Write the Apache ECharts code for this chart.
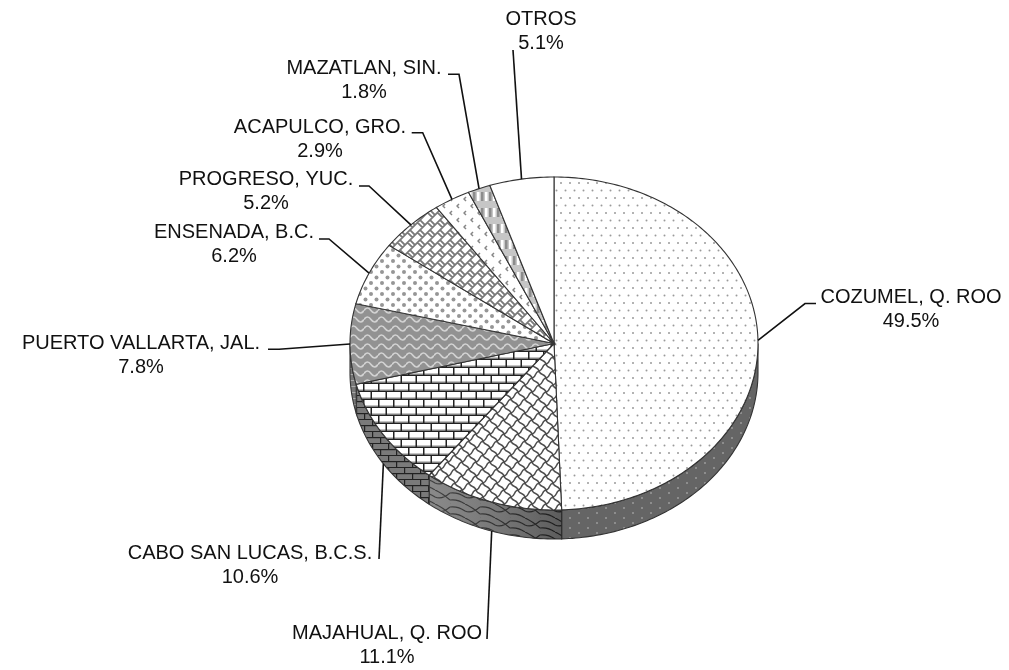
<!DOCTYPE html>
<html><head><meta charset="utf-8">
<style>html,body{margin:0;padding:0;background:#fff}#c{width:1009px;height:670px}</style>
<script src="https://cdn.jsdelivr.net/npm/echarts@6/dist/echarts.min.js"></script>
</head><body><div id="c"></div>
<script>
const categories = ['COZUMEL, Q. ROO','MAJAHUAL, Q. ROO','CABO SAN LUCAS, B.C.S.','PUERTO VALLARTA, JAL.','ENSENADA, B.C.','PROGRESO, YUC.','ACAPULCO, GRO.','MAZATLAN, SIN.','OTROS'];
const shares = [49.5,11.1,10.6,7.8,6.2,5.2,2.9,1.8,5.1];
// label layout: text centre x, text centre y, then leader bends
const labelCentres = [[911,309.5],[387,645],[250,565],[141,355],[234,244],[266,191.5],[320,139],[364,80.5],[541,31.5]];
const leaderBends = [
 [[805,303.5],[816,303.5]],
 [[487,639]],
 [[379,559]],
 [[279,349.3],[268,349.3]],
 [[329,239],[319,239]],
 [[369,186],[359,186]],
 [[422.7,132.7],[411.7,132.7]],
 [[459,74.3],[448,74.3]],
 [[513,50]]
];
const CX=554, CY=343.5, RX=204, RY=166.5, DEPTH=29;

function tile(w,h,bg,draw){
  const c=document.createElement('canvas');c.width=w;c.height=h;
  const g=c.getContext('2d');
  if(bg){g.fillStyle=bg;g.fillRect(0,0,w,h);}
  draw(g);
  return {image:c,repeat:'repeat'};
}
function dots(g,pts,r,col){g.fillStyle=col;pts.forEach(p=>{g.beginPath();g.arc(p[0],p[1],r,0,7);g.fill();});}
function strokes(g,col,lw,fn){g.strokeStyle=col;g.lineWidth=lw;g.lineJoin='round';g.beginPath();fn(g);g.stroke();}

const topPatterns=[
 tile(18,15,'#fff',g=>dots(g,[[3,3],[12,3],[7.5,10.5],[16.5,10.5]],1,'#9a9a9a')),
 tile(14,14,'#fff',g=>{g.scale(.7,.7);strokes(g,'#4e4e4e',2.1,c=>{
   for(const ox of [-20,0,20]) for(const oy of [-20,0,20]){
     c.moveTo(ox,oy+20);c.bezierCurveTo(ox+7,oy+18,ox+3,oy+12,ox+10,oy+10);c.bezierCurveTo(ox+17,oy+8,ox+13,oy+2,ox+20,oy);
     c.moveTo(ox,oy);c.bezierCurveTo(ox+2,oy+7,ox+8,oy+3,ox+10,oy+10);c.bezierCurveTo(ox+12,oy+17,ox+18,oy+13,ox+20,oy+20);
   }
 });}),
 tile(15,16,'#fff',g=>{
   g.fillStyle='#c4c4c4';g.fillRect(0,5,15,1.5);g.fillRect(0,13,15,1.5);
   g.fillStyle='#222';
   g.fillRect(0,6.5,15,1.5);g.fillRect(0,14.5,15,1.5);
   g.fillRect(3,0,1.5,7);g.fillRect(10.5,8,1.5,7);
 }),
 tile(14,9,'#929292',g=>strokes(g,'#d2d2d2',1.7,c=>{
   for(const y of [-4.5,4.5,13.5]){c.moveTo(0,y);c.quadraticCurveTo(3.5,y-5,7,y);c.quadraticCurveTo(10.5,y+5,14,y);}
 })),
 tile(11,11,'#fff',g=>dots(g,[[2.5,2.5],[8,8]],2,'#969696')),
 tile(10,10,'#fff',g=>strokes(g,'#7a7a7a',1.8,c=>{
   c.moveTo(-2,12);c.lineTo(12,-2);c.moveTo(-2,2);c.lineTo(2,-2);c.moveTo(8,12);c.lineTo(12,8);
   c.moveTo(0,0);c.lineTo(5,5);c.moveTo(7.5,2.5);c.lineTo(12.5,7.5);c.moveTo(-2.5,2.5);c.lineTo(2.5,7.5);
 })),
 tile(14,14,'#fff',g=>strokes(g,'#858585',1.5,c=>{
   c.moveTo(4,1);c.lineTo(2,3);c.lineTo(4,5);
   c.moveTo(11,8);c.lineTo(9,10);c.lineTo(11,12);
 })),
 tile(8,16,'#c6c6c6',g=>{
   g.fillStyle='#8c8c8c';g.fillRect(1,0,2.5,9);
   g.fillStyle='#fff';g.fillRect(5,0,2.5,9);
 }),
 null
];
const wallPatterns=[
 tile(18,10,'#656565',g=>dots(g,[[3,3],[12,8]],1,'#9b9b9b')),
 tile(30,14,'#767676',g=>strokes(g,'#222',1.2,c=>{
   c.moveTo(0,3);c.quadraticCurveTo(8,2,15,7);c.quadraticCurveTo(22,10,30,3);
   c.moveTo(-15,10);c.quadraticCurveTo(-7,9,0,14);c.moveTo(0,10);c.quadraticCurveTo(8,9,15,14);c.moveTo(15,0);c.quadraticCurveTo(22,3,30,10);
 })),
 tile(16,12,'#7a7a7a',g=>{g.fillStyle='#222';g.fillRect(0,5,16,1.2);g.fillRect(0,11,16,1.2);g.fillRect(4,0,1.2,5);g.fillRect(12,6,1.2,5);}),
 tile(8,6,'#767676',g=>{g.fillStyle='#aaa';g.fillRect(0,2,8,1);})
];
const wallShade={type:'linear',x:0,y:0,x2:1,y2:0,colorStops:[{offset:0,color:'rgba(255,255,255,0.14)'},{offset:1,color:'rgba(0,0,0,0.22)'}]};

const total=shares.reduce((a,b)=>a+b,0);
let run=0;
const spans=shares.map(v=>{const s=[run/total,(run+v)/total];run+=v;return s;});

function rim(api,frac){ // unit circle → axes scale the ellipse; clockwise from top
  const a=frac*2*Math.PI;
  return api.coord([Math.sin(a),Math.cos(a)]);
}
function arcPts(api,a,b,dy){
  const n=Math.max(2,Math.ceil((b-a)*360)),out=[];
  for(let i=0;i<=n;i++){const p=rim(api,a+(b-a)*i/n);out.push([p[0],p[1]+dy]);}
  return out;
}
const lineStyle={stroke:'#333',lineWidth:1.1};

const option={
 animation:false,
 grid:{left:CX-RX,top:CY-RY,width:2*RX,height:2*RY,show:false},
 xAxis:{type:'value',min:-1,max:1,show:false},
 yAxis:{type:'value',min:-1,max:1,show:false},
 series:[
  {type:'custom',coordinateSystem:'cartesian2d',silent:true,z:1,clip:false,
   data:spans.map((s,i)=>[s[0],s[1],i]),
   renderItem:(p,api)=>{
     const i=api.value(2),a=Math.max(api.value(0),.25),b=Math.min(api.value(1),.75);
     if(b<=a) return null;
     const pts=arcPts(api,a,b,0).concat(arcPts(api,a,b,DEPTH).reverse());
     const children=[{type:'polygon',shape:{points:pts},style:Object.assign({fill:wallPatterns[i]||'#777'},lineStyle)}];
     if(i===1) children.push({type:'polygon',shape:{points:pts},style:{fill:wallShade}});
     return {type:'group',children};
   }},
  {type:'custom',coordinateSystem:'cartesian2d',silent:true,z:2,clip:false,
   data:spans.map((s,i)=>[s[0],s[1],i]),
   renderItem:(p,api)=>{
     const i=api.value(2);
     const pts=[api.coord([0,0])].concat(arcPts(api,api.value(0),api.value(1),0));
     return {type:'polygon',shape:{points:pts},style:Object.assign({fill:topPatterns[i]||'#fff'},lineStyle)};
   }},
  {type:'custom',coordinateSystem:'cartesian2d',silent:true,z:3,clip:false,
   data:spans.map((s,i)=>[(s[0]+s[1])/2,0,i]),
   renderItem:(p,api)=>{
     const i=api.value(2),m=api.value(0),st=rim(api,m);
     const inFront=m>.25&&m<.72;
     const pts=[[st[0],st[1]+(inFront?DEPTH:0)]].concat(leaderBends[i]);
     return {type:'group',children:[
       {type:'polyline',shape:{points:pts},style:{stroke:'#111',lineWidth:1.6,fill:null}},
       {type:'text',style:{text:categories[i]+'\n'+shares[i].toFixed(1)+'%',x:labelCentres[i][0],y:labelCentres[i][1],
         fill:'#111',font:'20px "Liberation Sans"',align:'center',verticalAlign:'middle',lineHeight:24}}
     ]};
   }}
 ]
};
echarts.init(document.getElementById('c')).setOption(option);
</script></body></html>
